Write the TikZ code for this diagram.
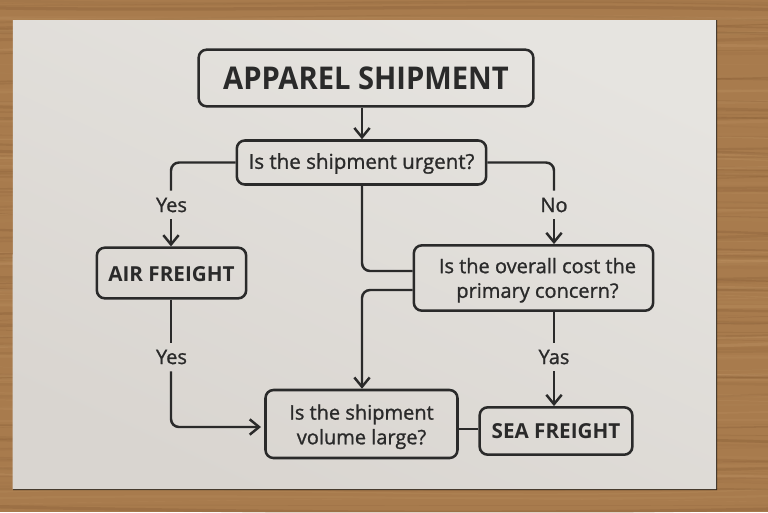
\documentclass[tikz,border=0pt]{standalone}
\usepackage{fontspec}
\setmainfont{Open Sans}
\newfontfamily\medfont[FakeBold=1.1]{Open Sans}
\newfontfamily\boldfont{Open Sans Bold}
\newfontfamily\titlefont[FakeStretch=0.93]{Open Sans Bold}
\usetikzlibrary{arrows.meta,shadings}
\definecolor{ink}{HTML}{2A2A2A}
\definecolor{woodbase}{HTML}{A87B4D}
\definecolor{wooddark}{HTML}{7E5530}
\definecolor{woodlight}{HTML}{C49A6A}
\definecolor{papertl}{HTML}{E6E4E0}
\definecolor{paperbr}{HTML}{D9D5D0}
\newcommand{\pushdown}[2]{\raisebox{0pt}[\dimexpr\height+#1\relax][\depth]{#2}}
\newcommand{\twolines}[2]{\begin{tabular}{@{}c@{}}#1\\#2\end{tabular}}
\tikzset{
  box/.style={draw=ink,line width=1.9pt,rounded corners=6pt,inner sep=0pt,align=center,text=ink},
  qtext/.style={font=\medfont\fontsize{15.4}{18.5}\selectfont},
  qwide/.style={font=\medfont\fontsize{15}{18.5}\selectfont},
  btext/.style={font=\boldfont\fontsize{15.5}{18}\selectfont},
  lab/.style={text=ink,inner sep=0pt,minimum width=34pt,minimum height=21pt,font=\medfont\fontsize{15}{18}\selectfont},
  conn/.style={draw=ink,line width=1.85pt,rounded corners=6pt},
  arr/.style={conn,-{Straight Barb[length=7pt,width=11.5pt,line width=1.85pt]}}
}
\begin{document}
\begin{tikzpicture}[x=0.75pt,y=-0.75pt]
\useasboundingbox (0,0) rectangle (768,512);
% wood table
\fill[woodbase] (0,0) rectangle (768,512);
\pgfmathsetseed{11}
\foreach \i in {1,...,170}{
  \pgfmathsetmacro{\yy}{rnd*512}
  \pgfmathsetmacro{\dy}{(rnd-0.5)*22}
  \pgfmathsetmacro{\dz}{(rnd-0.5)*22}
  \pgfmathsetmacro{\op}{0.06+rnd*0.22}
  \pgfmathsetmacro{\wd}{0.3+rnd*2.2}
  \pgfmathparse{rnd>0.45?"wooddark":"woodlight"}
  \edef\cc{\pgfmathresult}
  \draw[color=\cc,opacity=\op,line width=\wd pt] (-5,\yy) .. controls (250,\yy+\dy) and (500,\yy+\dz) .. (773,\yy+\dy*0.4);
}
% paper edge and paper
\fill[black!70!woodbase] (717.2,20) -- (717.2,490) -- (13,490) -- (13,489) -- (716,20) -- cycle;
\shade[top color=papertl,bottom color=paperbr,shading angle=-25] (13,20) -- (716,20) -- (716,489) -- (12.5,489) -- cycle;

% nodes
\node[box,minimum width=251pt,minimum height=42.5pt,font=\titlefont\fontsize{23.5}{26}\selectfont] (title) at (366,78) {APPAREL SHIPMENT};
\node[box,qtext,minimum width=187pt,minimum height=33pt] (urgent) at (361.5,162.5) {\pushdown{1.5pt}{Is the shipment urgent?}};
\node[box,btext,minimum width=112pt,minimum height=38pt] (air) at (171.5,273) {\pushdown{1.5pt}{AIR FREIGHT}};
\node[box,qwide,minimum width=179.5pt,minimum height=49pt] (cost) at (533.5,278) {\hspace*{6pt}\pushdown{3.8pt}{\twolines{Is the overall cost the}{primary concern?}}};
\node[box,qwide,minimum width=144pt,minimum height=51pt] (volume) at (361.5,424) {\pushdown{4.5pt}{\twolines{Is the shipment}{volume large?}}};
\node[box,btext,minimum width=114.5pt,minimum height=35.5pt] (sea) at (556,431) {SEA FREIGHT};
\node[lab] (yesa) at (171.5,205) {Yes};
\node[lab] (noa) at (554,205) {No};
\node[lab] (yesb) at (171.5,357) {Yes};
\node[lab] (yasa) at (554,357) {Yas};

% lanes
\coordinate (lmid) at (362,0);
\coordinate (lair) at (171,0);
\coordinate (lcost) at (554,0);
\coordinate (rowcostin) at (0,271);
\coordinate (rowcostout) at (0,290);
\coordinate (rowvolin) at (0,427);
\coordinate (rowsea) at (0,429);
\coordinate (volgap) at (261,0);

% connectors
\draw[arr] (title.south -| lmid) -- (urgent.north -| lmid);
\draw[conn] (urgent.west) -- (urgent.west -| lair) -- (yesa.north -| lair);
\draw[arr] (yesa.south -| lair) -- (air.north -| lair);
\draw[conn] (urgent.east) -- (urgent.east -| lcost) -- (noa.north -| lcost);
\draw[arr] (noa.south -| lcost) -- (cost.north -| lcost);
\draw[conn] (urgent.south -| lmid) -- (rowcostin -| lmid) -- (rowcostin -| cost.west);
\draw[arr] (rowcostout -| cost.west) -- (rowcostout -| lmid) -- (volume.north -| lmid);
\draw[conn] (air.south -| lair) -- (yesb.north -| lair);
\draw[arr] (yesb.south -| lair) -- (rowvolin -| lair) -- (rowvolin -| volgap);
\draw[conn] (cost.south -| lcost) -- (yasa.north -| lcost);
\draw[arr] (yasa.south -| lcost) -- (sea.north -| lcost);
\draw[conn] (rowsea -| volume.east) -- (rowsea -| sea.west);
\end{tikzpicture}
\end{document}
